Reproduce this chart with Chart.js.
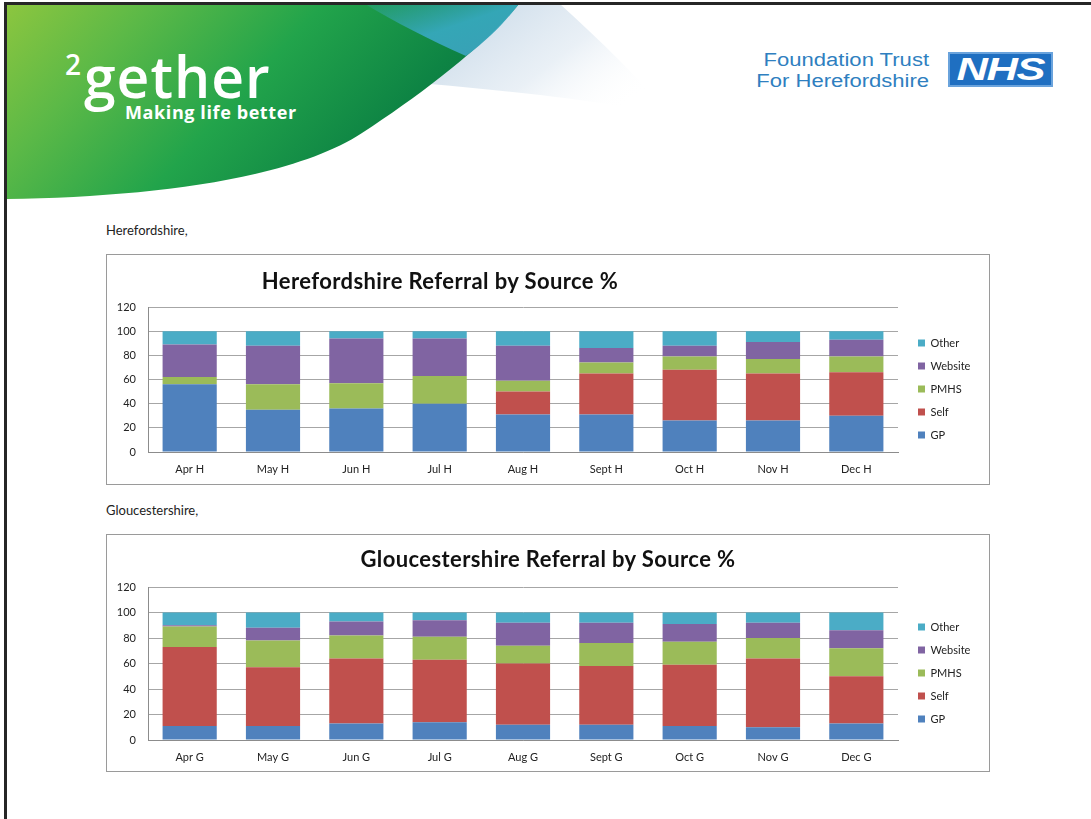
<!DOCTYPE html>
<html>
<head>
<meta charset="utf-8">
<script src="https://cdn.jsdelivr.net/npm/chart.js@4.4.1/dist/chart.umd.min.js"></script>
<style>
  html, body { margin: 0; padding: 0; background: #fff; }
  body { width: 1091px; height: 819px; position: relative; overflow: hidden; }
  .abs { position: absolute; }
  .border-top { left: 4px; top: 2px; width: 1087px; height: 3px; background: #262626; }
  .border-left { left: 4px; top: 2px; width: 3px; height: 817px; background: #262626; }
  .logo2 { left: 65px; top: 48px; font-family: "Open Sans", sans-serif; font-weight: 600; font-size: 57px; line-height: 57px; color: #fff; letter-spacing: 1px; white-space: nowrap; }
  .logo2 sup { font-size: 28px; vertical-align: 0; position: relative; top: -23px; margin-right: 3px; letter-spacing: 0; }
  .tagline { left: 125px; top: 103px; font-family: "Open Sans", sans-serif; font-weight: 700; font-size: 18px; line-height: 18px; color: #fff; letter-spacing: 0.6px; white-space: nowrap; }
  .trust { right: 162px; top: 50px; font-family: "Liberation Sans", Arial, sans-serif; font-size: 18px; line-height: 21px; color: #2f7fc0; text-align: right; white-space: nowrap; transform: scaleX(1.225); transform-origin: right center; }
  .nhs { left: 948px; top: 52px; width: 101px; height: 31px; background: #1f6fc1; border: 2px solid #6aa3dc; color: #fff; font-family: "Liberation Sans", Arial, sans-serif; font-weight: 700; font-style: italic; font-size: 32px; line-height: 31px; text-align: center; }
  .nhs span { display: inline-block; transform: scaleX(1.36); letter-spacing: -1px; }
  .label { font-family: Lato, "Open Sans", sans-serif; font-size: 13px; color: #222; white-space: nowrap; }
  .box { border: 1px solid #9a9a9a; background: #fff; }
  .title { font-family: Lato, "Open Sans", sans-serif; font-weight: 700; font-size: 22px; letter-spacing: 0.4px; color: #111; white-space: nowrap; transform: translate(-50%, -50%); }
</style>
</head>
<body>
<svg class="abs" style="left:0;top:0" width="1091" height="210" viewBox="0 0 1091 210">
  <defs>
    <linearGradient id="gGreen" x1="0" y1="0" x2="1" y2="0.35">
      <stop offset="0" stop-color="#8cc63f"/>
      <stop offset="0.25" stop-color="#5cb947"/>
      <stop offset="0.55" stop-color="#22a44b"/>
      <stop offset="0.85" stop-color="#0e8444"/>
      <stop offset="1" stop-color="#0a7540"/>
    </linearGradient>
    <linearGradient id="gTeal" x1="0" y1="0" x2="1" y2="1">
      <stop offset="0" stop-color="#3aa9b8" stop-opacity="0.2"/>
      <stop offset="0.5" stop-color="#36a8bc" stop-opacity="0.95"/>
      <stop offset="1" stop-color="#3a9fb6" stop-opacity="1"/>
    </linearGradient>
    <linearGradient id="gPale" x1="0" y1="0" x2="1" y2="0.6">
      <stop offset="0" stop-color="#b9cfe2" stop-opacity="0.9"/>
      <stop offset="0.6" stop-color="#dbe6f0" stop-opacity="0.6"/>
      <stop offset="1" stop-color="#ffffff" stop-opacity="0"/>
    </linearGradient>
  </defs>
  <path d="M519,4 L560,4 C600,40 640,80 672,116 C610,102 520,92 430,84 Z" fill="url(#gPale)"/>
  <path d="M7,4 L519,4 C480,50 420,95 362,133 C292,179 150,197 7,199 Z" fill="url(#gGreen)"/>
  <path d="M365,4 L519,4 C505,22 490,38 466,56 C430,40 395,22 365,4 Z" fill="url(#gTeal)"/>
</svg>
<div class="abs border-top"></div>
<div class="abs border-left"></div>
<div class="abs logo2"><sup>2</sup>gether</div>
<div class="abs tagline">Making life better</div>
<div class="abs trust">Foundation Trust<br>For Herefordshire</div>
<div class="abs nhs"><span>NHS</span></div>

<div class="abs label" style="left:106px;top:222px;">Herefordshire,</div>
<div class="abs box" style="left:106px;top:254px;width:882px;height:229px;">
  <canvas id="c1" width="882" height="229"></canvas>
</div>
<div class="abs title" style="left:440px;top:280px;">Herefordshire Referral by Source %</div>

<div class="abs label" style="left:106px;top:502px;">Gloucestershire,</div>
<div class="abs box" style="left:106px;top:534px;width:882px;height:236px;">
  <canvas id="c2" width="882" height="236"></canvas>
</div>
<div class="abs title" style="left:548px;top:558px;">Gloucestershire Referral by Source %</div>

<script>
// ---- Data ----
const seriesNames = ['GP', 'Self', 'PMHS', 'Website', 'Other'];
const yTicks = [0, 20, 40, 60, 80, 100, 120];

const hLabels = ['Apr H', 'May H', 'Jun H', 'Jul H', 'Aug H', 'Sept H', 'Oct H', 'Nov H', 'Dec H'];
const hGP      = [56, 35, 36, 40, 31, 31, 26, 26, 30];
const hSelf    = [0, 0, 0, 0, 19, 34, 42, 39, 36];
const hPMHS    = [6, 21, 21, 23, 9, 9, 11, 12, 13];
const hWebsite = [27, 32, 37, 31, 29, 12, 9, 14, 14];
const hOther   = [11, 12, 6, 6, 12, 14, 12, 9, 7];

const gLabels = ['Apr G', 'May G', 'Jun G', 'Jul G', 'Aug G', 'Sept G', 'Oct G', 'Nov G', 'Dec G'];
const gGP      = [11, 11, 13, 14, 12, 12, 11, 10, 13];
const gSelf    = [62, 46, 51, 49, 48, 46, 48, 54, 37];
const gPMHS    = [16, 21, 18, 18, 14, 18, 18, 16, 22];
const gWebsite = [1, 10, 11, 13, 18, 16, 14, 12, 14];
const gOther   = [10, 12, 7, 6, 8, 8, 9, 8, 14];

const colors = ['#4f81bd', '#c0504d', '#9bbb59', '#8064a2', '#4bacc6'];

function makeChart(id, labels, seriesData, plotBottom, canvasH, legendOffset) {
  const font = { family: 'Lato, "Open Sans", sans-serif', size: 11 };
  return new Chart(document.getElementById(id), {
    type: 'bar',
    data: {
      labels: labels,
      datasets: seriesData.map((d, i) => ({
        label: seriesNames[i],
        data: d,
        backgroundColor: colors[i],
        borderWidth: 0,
        barPercentage: 0.65,
        categoryPercentage: 1.0
      }))
    },
    options: {
      responsive: false,
      animation: false,
      devicePixelRatio: 1,
      layout: { padding: { top: 52, left: 0, right: 13, bottom: 0 } },
      plugins: {
        tooltip: { enabled: false },
        title: { display: false },
        legend: {
          position: 'right',
          align: 'start',
          reverse: true,
          maxWidth: 70,
          title: {
            display: true,
            text: ' ',
            font: { size: 10, lineHeight: 1 },
            padding: { top: legendOffset - 10, bottom: 0 }
          },
          labels: {
            boxWidth: 7,
            boxHeight: 7,
            padding: 12,
            color: '#222',
            font: font
          }
        }
      },
      scales: {
        x: {
          stacked: true,
          grid: { display: false, drawTicks: false },
          border: { display: true, color: '#8c8c8c', width: 1 },
          ticks: { color: '#222', font: font, padding: 11, maxRotation: 0 },
          afterFit: (s) => { s.height = canvasH - plotBottom; }
        },
        y: {
          stacked: true,
          min: 0,
          max: 120,
          afterBuildTicks: (s) => { s.ticks = yTicks.map(v => ({ value: v })); },
          grid: { color: '#a6a6a6', lineWidth: 1, drawTicks: false },
          border: { display: true, color: '#8c8c8c', width: 1 },
          ticks: { color: '#222', font: font, padding: 12 },
          afterFit: (s) => { s.width = 41; }
        },
        spacer: {
          type: 'linear',
          position: 'right',
          display: true,
          grid: { display: false, drawTicks: false },
          border: { display: false },
          ticks: { display: false },
          afterFit: (s) => { s.width = 8; }
        }
      }
    }
  });
}

makeChart('c1', hLabels, [hGP, hSelf, hPMHS, hWebsite, hOther], 197, 229, 18.5);
makeChart('c2', gLabels, [gGP, gSelf, gPMHS, gWebsite, gOther], 205, 236, 22.5);
</script>
</body>
</html>
